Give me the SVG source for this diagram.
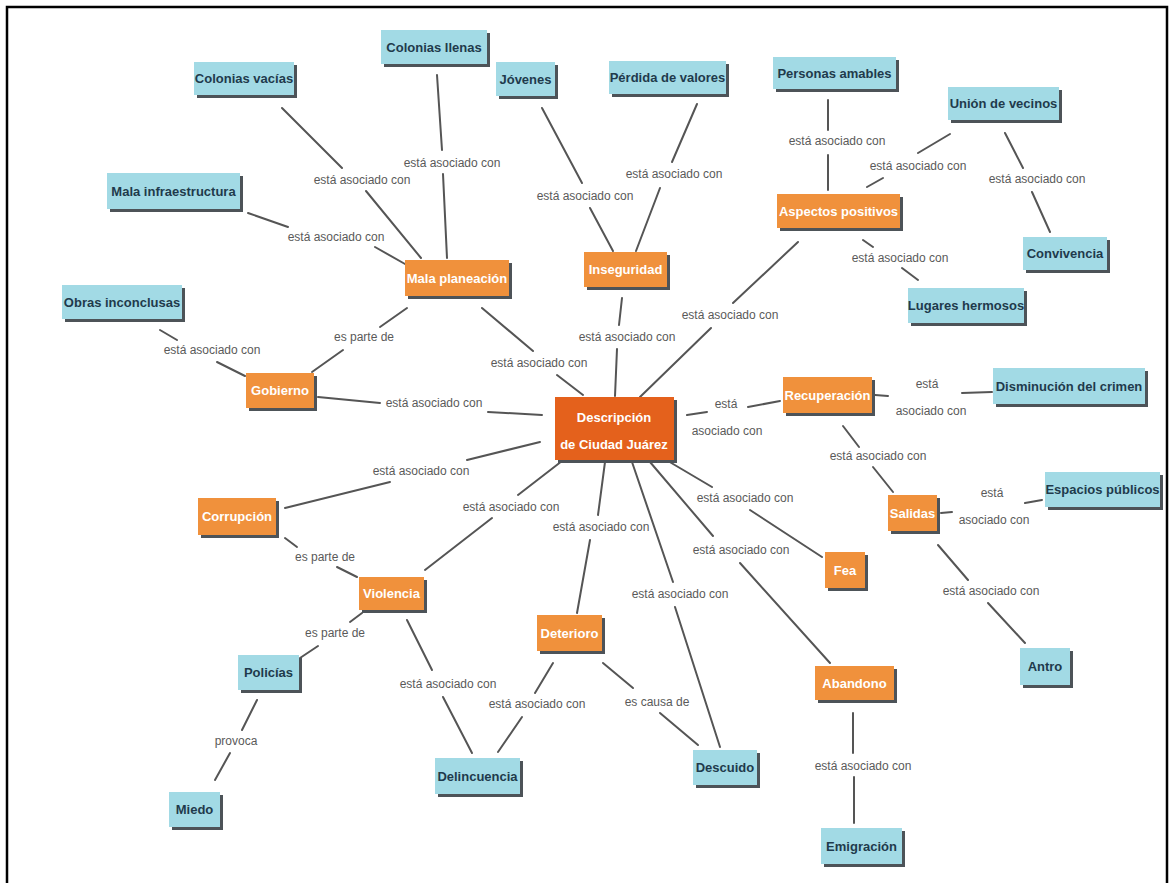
<svg xmlns="http://www.w3.org/2000/svg" width="1174" height="883" viewBox="0 0 1174 883">
  <style>
    .sh { fill: #4d5358; }
    .blue { fill: #a2dae5; }
    .orng { fill: #f0913c; }
    .core { fill: #e4611c; }
    .tb { font-family: "Liberation Sans", Arial, sans-serif; font-weight: bold; font-size: 13px; fill: #1f3a4c; text-anchor: middle; dominant-baseline: central; }
    .tw { font-family: "Liberation Sans", Arial, sans-serif; font-weight: bold; font-size: 13px; fill: #ffffff; text-anchor: middle; dominant-baseline: central; }
    .lnk { stroke: #555555; stroke-width: 2; fill: none; stroke-linecap: round; }
    .lbl { font-family: "Liberation Sans", Arial, sans-serif; font-size: 12px; fill: #5a5a5a; text-anchor: middle; dominant-baseline: central; }
  </style>

  <rect x="0" y="0" width="1174" height="883" fill="#ffffff"/>
  <path d="M7,883 V7 H1167 V883" fill="none" stroke="#000000" stroke-width="2.5"/>

  <!-- connectors and their linking phrases -->
  <g id="connectors">
    <!-- Colonias vacías - Mala planeación -->
    <path class="lnk" d="M282,108 L342,168 M366,191 L421,258"/>
    <text class="lbl" x="362" y="180">está asociado con</text>
    <!-- Colonias llenas - Mala planeación -->
    <path class="lnk" d="M437,75 L442,150 M443,174 L447,258"/>
    <text class="lbl" x="452" y="163">está asociado con</text>
    <!-- Mala infraestructura - Mala planeación -->
    <path class="lnk" d="M248,213 L288,227 M375,247 L405,264"/>
    <text class="lbl" x="336" y="237">está asociado con</text>
    <!-- Obras inconclusas - Gobierno -->
    <path class="lnk" d="M160,330 L177,340 M217,362 L245,376"/>
    <text class="lbl" x="212" y="350">está asociado con</text>
    <!-- Mala planeación - Gobierno -->
    <path class="lnk" d="M407,308 L380,327 M343,350 L312,372"/>
    <text class="lbl" x="364" y="337">es parte de</text>
    <!-- Gobierno - Descripción -->
    <path class="lnk" d="M318,397 L380,403 M488,412 L542,415"/>
    <text class="lbl" x="434" y="403">está asociado con</text>
    <!-- Mala planeación - Descripción -->
    <path class="lnk" d="M482,308 L533,351 M557,375 L583,395"/>
    <text class="lbl" x="539" y="363">está asociado con</text>
    <!-- Jóvenes - Inseguridad -->
    <path class="lnk" d="M542,108 L582,183 M590,208 L613,251"/>
    <text class="lbl" x="585" y="196">está asociado con</text>
    <!-- Pérdida de valores - Inseguridad -->
    <path class="lnk" d="M697,104 L672,162 M660,188 L636,251"/>
    <text class="lbl" x="674" y="174">está asociado con</text>
    <!-- Inseguridad - Descripción -->
    <path class="lnk" d="M622,298 L619,325 M617,349 L615,396"/>
    <text class="lbl" x="627" y="337">está asociado con</text>
    <!-- Personas amables - Aspectos positivos -->
    <path class="lnk" d="M828,100 L828,130 M828,155 L828,190"/>
    <text class="lbl" x="837" y="141">está asociado con</text>
    <!-- Unión de vecinos - Aspectos positivos -->
    <path class="lnk" d="M950,134 L918,153 M883,178 L867,187"/>
    <text class="lbl" x="918" y="166">está asociado con</text>
    <!-- Unión de vecinos - Convivencia -->
    <path class="lnk" d="M1005,133 L1023,168 M1032,192 L1050,232"/>
    <text class="lbl" x="1037" y="179">está asociado con</text>
    <!-- Aspectos positivos - Lugares hermosos -->
    <path class="lnk" d="M863,240 L873,247 M902,268 L918,280"/>
    <text class="lbl" x="900" y="258">está asociado con</text>
    <!-- Aspectos positivos - Descripción -->
    <path class="lnk" d="M798,242 L733,303 M711,328 L640,397"/>
    <text class="lbl" x="730" y="315">está asociado con</text>
    <!-- Descripción - Recuperación -->
    <path class="lnk" d="M687,415 L707,412 M748,407 L780,401"/>
    <text class="lbl" x="726" y="404">está</text>
    <text class="lbl" x="727" y="431">asociado con</text>
    <!-- Recuperación - Disminución del crimen -->
    <path class="lnk" d="M875,395 L888,396 M962,393 L992,392"/>
    <text class="lbl" x="927" y="384">está</text>
    <text class="lbl" x="931" y="411">asociado con</text>
    <!-- Recuperación - Salidas -->
    <path class="lnk" d="M843,426 L859,447 M873,467 L893,492"/>
    <text class="lbl" x="878" y="456">está asociado con</text>
    <!-- Salidas - Espacios públicos -->
    <path class="lnk" d="M941,513 L952,512 M1025,503 L1042,500"/>
    <text class="lbl" x="992" y="493">está</text>
    <text class="lbl" x="994" y="520">asociado con</text>
    <!-- Salidas - Antro -->
    <path class="lnk" d="M938,545 L968,580 M988,603 L1025,643"/>
    <text class="lbl" x="991" y="591">está asociado con</text>
    <!-- Descripción - Corrupción -->
    <path class="lnk" d="M540,442 L467,460 M390,482 L285,508"/>
    <text class="lbl" x="421" y="471">está asociado con</text>
    <!-- Corrupción - Violencia -->
    <path class="lnk" d="M285,538 L297,547 M337,567 L357,577"/>
    <text class="lbl" x="325" y="557">es parte de</text>
    <!-- Descripción - Violencia -->
    <path class="lnk" d="M562,461 L518,495 M492,518 L425,570"/>
    <text class="lbl" x="511" y="507">está asociado con</text>
    <!-- Descripción - Deterioro -->
    <path class="lnk" d="M605,462 L598,515 M590,540 L577,613"/>
    <text class="lbl" x="601" y="527">está asociado con</text>
    <!-- Descripción - Fea -->
    <path class="lnk" d="M668,461 L712,487 M750,510 L822,557"/>
    <text class="lbl" x="745" y="498">está asociado con</text>
    <!-- Descripción - Abandono -->
    <path class="lnk" d="M650,462 L713,536 M740,563 L830,663"/>
    <text class="lbl" x="741" y="550">está asociado con</text>
    <!-- Descripción - Descuido -->
    <path class="lnk" d="M632,462 L673,582 M675,607 L720,747"/>
    <text class="lbl" x="680" y="594">está asociado con</text>
    <!-- Violencia - Policías -->
    <path class="lnk" d="M362,613 L350,622 M318,646 L300,658"/>
    <text class="lbl" x="335" y="633">es parte de</text>
    <!-- Policías - Miedo -->
    <path class="lnk" d="M257,700 L242,730 M230,753 L215,780"/>
    <text class="lbl" x="236" y="741">provoca</text>
    <!-- Violencia - Delincuencia -->
    <path class="lnk" d="M407,620 L432,670 M443,697 L472,753"/>
    <text class="lbl" x="448" y="684">está asociado con</text>
    <!-- Deterioro - Delincuencia -->
    <path class="lnk" d="M553,663 L535,693 M522,717 L498,752"/>
    <text class="lbl" x="537" y="704">está asociado con</text>
    <!-- Deterioro - Descuido -->
    <path class="lnk" d="M603,663 L633,688 M660,713 L698,745"/>
    <text class="lbl" x="657" y="702">es causa de</text>
    <!-- Abandono - Emigración -->
    <path class="lnk" d="M853,713 L853,753 M854,777 L854,823"/>
    <text class="lbl" x="863" y="766">está asociado con</text>
  </g>

  <!-- central concept -->
  <g id="descripcion">
    <rect class="sh" x="558" y="400" width="119" height="63"/>
    <rect class="core" x="555" y="397" width="119" height="63"/>
    <text class="tw" x="614" y="417">Descripción</text>
    <text class="tw" x="614" y="444">de Ciudad Juárez</text>
  </g>

  <!-- orange concepts -->
  <g id="mala-planeacion">
    <rect class="sh" x="408" y="263" width="104" height="36"/>
    <rect class="orng" x="405" y="260" width="104" height="36"/>
    <text class="tw" x="457" y="278">Mala planeación</text>
  </g>
  <g id="inseguridad">
    <rect class="sh" x="587" y="255" width="83" height="35"/>
    <rect class="orng" x="584" y="252" width="83" height="35"/>
    <text class="tw" x="625.5" y="269.5">Inseguridad</text>
  </g>
  <g id="aspectos-positivos">
    <rect class="sh" x="780" y="197" width="123" height="34"/>
    <rect class="orng" x="777" y="194" width="123" height="34"/>
    <text class="tw" x="838.5" y="211">Aspectos positivos</text>
  </g>
  <g id="gobierno">
    <rect class="sh" x="249" y="376" width="68" height="35"/>
    <rect class="orng" x="246" y="373" width="68" height="35"/>
    <text class="tw" x="280" y="390.5">Gobierno</text>
  </g>
  <g id="recuperacion">
    <rect class="sh" x="786" y="380" width="89" height="36"/>
    <rect class="orng" x="783" y="377" width="89" height="36"/>
    <text class="tw" x="827.5" y="395">Recuperación</text>
  </g>
  <g id="salidas">
    <rect class="sh" x="891" y="498" width="49" height="36"/>
    <rect class="orng" x="888" y="495" width="49" height="36"/>
    <text class="tw" x="912.5" y="513">Salidas</text>
  </g>
  <g id="corrupcion">
    <rect class="sh" x="201" y="501" width="78" height="37"/>
    <rect class="orng" x="198" y="498" width="78" height="37"/>
    <text class="tw" x="237" y="516.5">Corrupción</text>
  </g>
  <g id="violencia">
    <rect class="sh" x="362" y="580" width="65" height="33"/>
    <rect class="orng" x="359" y="577" width="65" height="33"/>
    <text class="tw" x="391.5" y="593.5">Violencia</text>
  </g>
  <g id="fea">
    <rect class="sh" x="828" y="555" width="40" height="36"/>
    <rect class="orng" x="825" y="552" width="40" height="36"/>
    <text class="tw" x="845" y="570">Fea</text>
  </g>
  <g id="deterioro">
    <rect class="sh" x="540" y="618" width="65" height="36"/>
    <rect class="orng" x="537" y="615" width="65" height="36"/>
    <text class="tw" x="569.5" y="633">Deterioro</text>
  </g>
  <g id="abandono">
    <rect class="sh" x="818" y="669" width="79" height="34"/>
    <rect class="orng" x="815" y="666" width="79" height="34"/>
    <text class="tw" x="854.5" y="683">Abandono</text>
  </g>

  <!-- blue concepts -->
  <g id="colonias-vacias">
    <rect class="sh" x="197" y="65" width="100" height="33"/>
    <rect class="blue" x="194" y="62" width="100" height="33"/>
    <text class="tb" x="244" y="78.5">Colonias vacías</text>
  </g>
  <g id="colonias-llenas">
    <rect class="sh" x="384" y="33" width="106" height="34"/>
    <rect class="blue" x="381" y="30" width="106" height="34"/>
    <text class="tb" x="434" y="47">Colonias llenas</text>
  </g>
  <g id="jovenes">
    <rect class="sh" x="499" y="65" width="59" height="34"/>
    <rect class="blue" x="496" y="62" width="59" height="34"/>
    <text class="tb" x="525.5" y="79">Jóvenes</text>
  </g>
  <g id="perdida-de-valores">
    <rect class="sh" x="612" y="64" width="117" height="33"/>
    <rect class="blue" x="609" y="61" width="117" height="33"/>
    <text class="tb" x="667.5" y="77.5">Pérdida de valores</text>
  </g>
  <g id="personas-amables">
    <rect class="sh" x="776" y="60" width="123" height="32"/>
    <rect class="blue" x="773" y="57" width="123" height="32"/>
    <text class="tb" x="834.5" y="73">Personas amables</text>
  </g>
  <g id="union-de-vecinos">
    <rect class="sh" x="951" y="90" width="111" height="33"/>
    <rect class="blue" x="948" y="87" width="111" height="33"/>
    <text class="tb" x="1003.5" y="103.5">Unión de vecinos</text>
  </g>
  <g id="convivencia">
    <rect class="sh" x="1026" y="240" width="84" height="33"/>
    <rect class="blue" x="1023" y="237" width="84" height="33"/>
    <text class="tb" x="1065" y="253.5">Convivencia</text>
  </g>
  <g id="lugares-hermosos">
    <rect class="sh" x="911" y="291" width="116" height="35"/>
    <rect class="blue" x="908" y="288" width="116" height="35"/>
    <text class="tb" x="966" y="305.5">Lugares hermosos</text>
  </g>
  <g id="mala-infraestructura">
    <rect class="sh" x="110" y="176" width="133" height="36"/>
    <rect class="blue" x="107" y="173" width="133" height="36"/>
    <text class="tb" x="173.5" y="191">Mala infraestructura</text>
  </g>
  <g id="obras-inconclusas">
    <rect class="sh" x="65" y="288" width="120" height="34"/>
    <rect class="blue" x="62" y="285" width="120" height="34"/>
    <text class="tb" x="122" y="302">Obras inconclusas</text>
  </g>
  <g id="disminucion-del-crimen">
    <rect class="sh" x="996" y="371" width="152" height="36"/>
    <rect class="blue" x="993" y="368" width="152" height="36"/>
    <text class="tb" x="1069" y="386">Disminución del crimen</text>
  </g>
  <g id="espacios-publicos">
    <rect class="sh" x="1048" y="475" width="115" height="35"/>
    <rect class="blue" x="1045" y="472" width="115" height="35"/>
    <text class="tb" x="1102.5" y="489.5">Espacios públicos</text>
  </g>
  <g id="antro">
    <rect class="sh" x="1023" y="651" width="50" height="37"/>
    <rect class="blue" x="1020" y="648" width="50" height="37"/>
    <text class="tb" x="1045" y="666.5">Antro</text>
  </g>
  <g id="policias">
    <rect class="sh" x="241" y="658" width="61" height="35"/>
    <rect class="blue" x="238" y="655" width="61" height="35"/>
    <text class="tb" x="268.5" y="672.5">Policías</text>
  </g>
  <g id="miedo">
    <rect class="sh" x="172" y="795" width="51" height="35"/>
    <rect class="blue" x="169" y="792" width="51" height="35"/>
    <text class="tb" x="194.5" y="809.5">Miedo</text>
  </g>
  <g id="delincuencia">
    <rect class="sh" x="438" y="761" width="85" height="36"/>
    <rect class="blue" x="435" y="758" width="85" height="36"/>
    <text class="tb" x="477.5" y="776">Delincuencia</text>
  </g>
  <g id="descuido">
    <rect class="sh" x="696" y="753" width="64" height="35"/>
    <rect class="blue" x="693" y="750" width="64" height="35"/>
    <text class="tb" x="725" y="767.5">Descuido</text>
  </g>
  <g id="emigracion">
    <rect class="sh" x="824" y="831" width="81" height="36"/>
    <rect class="blue" x="821" y="828" width="81" height="36"/>
    <text class="tb" x="861.5" y="846">Emigración</text>
  </g>
</svg>
